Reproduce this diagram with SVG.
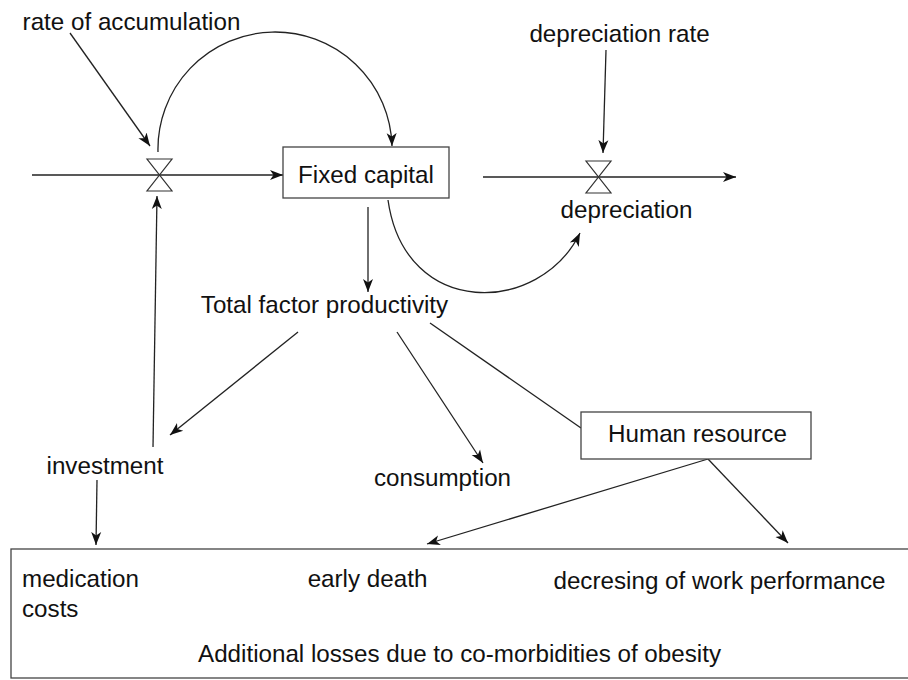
<svg xmlns="http://www.w3.org/2000/svg" width="908" height="680" viewBox="0 0 908 680">
<style>
text{font-family:"Liberation Sans",Arial,sans-serif;font-size:24.2px;fill:#111;text-anchor:middle}
.ln{fill:none;stroke:#222;stroke-width:1.3}
.bx{fill:#fff;stroke:#444;stroke-width:1.3}
.valve{fill:#fff;stroke:#333;stroke-width:1.2}
</style>
<defs>
<marker id="ar" markerUnits="userSpaceOnUse" markerWidth="14" markerHeight="12" viewBox="0 0 14 12" refX="13" refY="6" orient="auto">
<path d="M0,1 L13,6 L0,11 L3.5,6 z" fill="#111"/>
</marker>
</defs>
<g id="connectors">
<line class="ln" x1="32" y1="175" x2="283" y2="175" marker-end="url(#ar)"/>
<line class="ln" x1="70" y1="33" x2="150" y2="146" marker-end="url(#ar)"/>
<path class="ln" d="M158,152 A117 117 0 0 1 392,146" marker-end="url(#ar)"/>
<line class="ln" x1="153" y1="447" x2="157" y2="196" marker-end="url(#ar)"/>
<line class="ln" x1="483" y1="177" x2="736" y2="177" marker-end="url(#ar)"/>
<line class="ln" x1="606" y1="50" x2="603" y2="153" marker-end="url(#ar)"/>
<path class="ln" d="M388,200 C405,320 540,315 580,233" marker-end="url(#ar)"/>
<line class="ln" x1="368" y1="207" x2="368" y2="292" marker-end="url(#ar)"/>
<line class="ln" x1="298" y1="332" x2="170" y2="435" marker-end="url(#ar)"/>
<line class="ln" x1="397" y1="332" x2="483" y2="463" marker-end="url(#ar)"/>
<line class="ln" x1="430" y1="323" x2="581" y2="428"/>
<line class="ln" x1="97" y1="480" x2="96" y2="545" marker-end="url(#ar)"/>
<line class="ln" x1="708" y1="459" x2="427" y2="544" marker-end="url(#ar)"/>
<line class="ln" x1="708" y1="459" x2="788" y2="543" marker-end="url(#ar)"/>
</g>
<g id="valve-accumulation">
<polygon class="valve" points="147,159 172,159 147,191 172,191"/>
</g>
<g id="valve-depreciation">
<polygon class="valve" points="586,161 611,161 586,193 611,193"/>
</g>
<g id="rate-of-accumulation"><text x="131.5" y="30">rate of accumulation</text></g>
<g id="depreciation-rate"><text x="619.5" y="42">depreciation rate</text></g>
<g id="fixed-capital">
<rect class="bx" x="283" y="147" width="166" height="51"/>
<text x="366" y="183">Fixed capital</text>
</g>
<g id="depreciation"><text x="626.5" y="218">depreciation</text></g>
<g id="tfp"><text x="324.5" y="313">Total factor productivity</text></g>
<g id="investment"><text x="105" y="474">investment</text></g>
<g id="consumption"><text x="442.5" y="486">consumption</text></g>
<g id="human-resource">
<rect class="bx" x="581" y="412" width="230" height="47"/>
<text x="697.5" y="442">Human resource</text>
</g>
<g id="losses">
<rect class="bx" x="11" y="549" width="905" height="129"/>
<text x="22" y="587" style="text-anchor:start">medication</text>
<text x="22" y="617" style="text-anchor:start">costs</text>
<text x="367.5" y="587">early death</text>
<text x="719.5" y="589">decresing of work performance</text>
<text x="459.5" y="662">Additional losses due to co-morbidities of obesity</text>
</g>
</svg>
